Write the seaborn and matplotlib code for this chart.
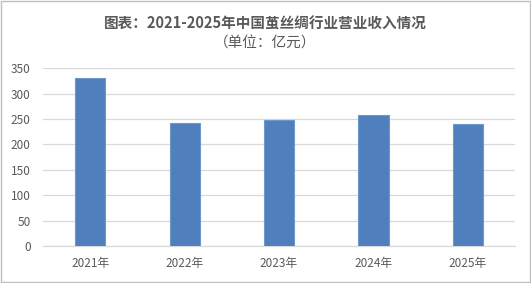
import matplotlib
matplotlib.use("Agg")
import matplotlib.pyplot as plt
import seaborn as sns
import pandas as pd

years = ["2021年", "2022年", "2023年", "2024年", "2025年"]
revenue = [331, 242, 248, 257, 240]
yticks = [0, 50, 100, 150, 200, 250, 300, 350]
title = "图表：2021-2025年中国茧丝绸行业营业收入情况"
subtitle = "（单位：亿元）"

sns.set_theme(style="white")
plt.rcParams['font.family'] = ['Noto Sans CJK SC', 'DejaVu Sans']

df = pd.DataFrame({"year": years, "revenue": revenue})

fig = plt.figure(figsize=(5.31, 2.83), dpi=100)
ax = fig.add_axes([0.081, 0.131, 0.889, 0.628])
sns.barplot(data=df, x="year", y="revenue", color="#4F7FBD", width=0.32,
            saturation=1, edgecolor="#6E97CC", linewidth=0.8, ax=ax, zorder=3)

ax.set_ylim(0, 350)
ax.set_yticks(yticks)
ax.set_xlim(-0.5, len(years) - 0.5)
ax.yaxis.grid(True, color="#D9D9D9", linewidth=0.9, zorder=0)
ax.set_axisbelow(True)
for s in ["left", "right", "top"]:
    ax.spines[s].set_visible(False)
ax.spines["bottom"].set_color("#D9D9D9")
ax.spines["bottom"].set_linewidth(0.9)
ax.tick_params(axis="both", length=0, labelsize=8.5, colors="#595959")
ax.tick_params(axis="y", pad=9)
ax.tick_params(axis="x", pad=8)
ax.set_xlabel("")
ax.set_ylabel("")

fig.text(0.5, 0.918, title, ha="center", va="center", fontsize=10.5,
         fontweight="bold", color="#595959")
fig.text(0.5, 0.845, subtitle, ha="center", va="center", fontsize=10.5,
         color="#595959")

border = plt.Rectangle((0.002, 0.004), 0.996, 0.992, transform=fig.transFigure,
                       fill=False, edgecolor="#BFBFBF", linewidth=1)
fig.add_artist(border)

fig.savefig("out.png", dpi=100)
